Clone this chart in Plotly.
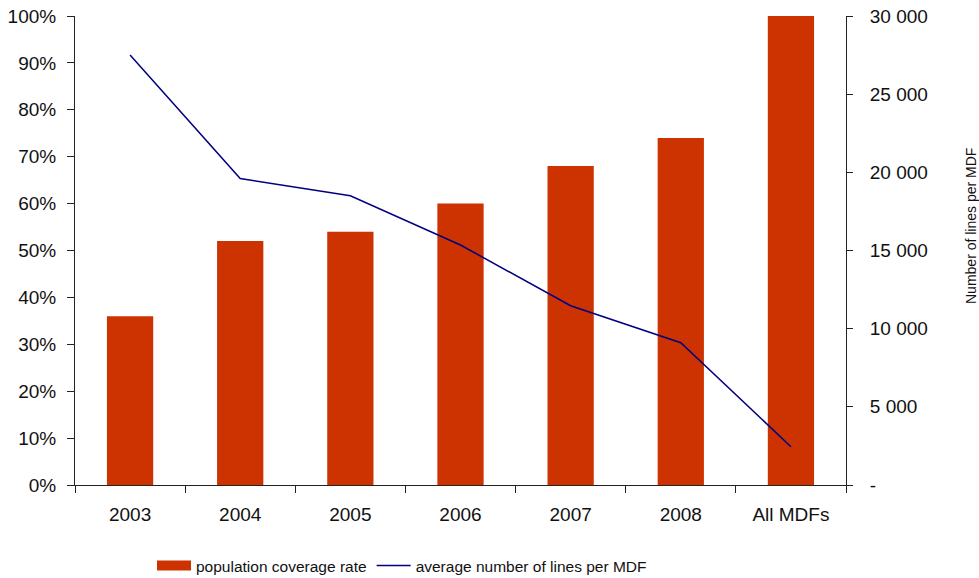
import plotly.graph_objects as go

categories = ["2003", "2004", "2005", "2006", "2007", "2008", "All MDFs"]
coverage_rate = [0.36, 0.52, 0.54, 0.60, 0.68, 0.74, 1.00]
avg_lines = [27500, 19600, 18500, 15350, 11470, 9100, 2450]

left_ticks = [i / 10 for i in range(11)]
left_labels = [f"{i*10}%" for i in range(11)]
right_ticks = [0, 5000, 10000, 15000, 20000, 25000, 30000]
right_labels = ["-", "5 000", "10 000", "15 000", "20 000", "25 000", "30 000"]
right_title = "Number of lines per MDF"

FONT = "Liberation Sans, Arial, sans-serif"
W, H = 979, 578
BAR_COLOR = "#CC3300"
LINE_COLOR = "#000080"

fig = go.Figure()
# legend-only entry to get a wide rectangular swatch for the bars
fig.add_trace(go.Scatter(
    x=[None], y=[None], name="population coverage rate", mode="lines",
    line=dict(color=BAR_COLOR, width=14), legendgroup="bars", hoverinfo="skip",
))
fig.add_trace(go.Bar(
    x=categories, y=coverage_rate, name="population coverage rate",
    marker=dict(color=BAR_COLOR, line=dict(width=0)), width=0.42, yaxis="y",
    showlegend=False, legendgroup="bars",
))
fig.add_trace(go.Scatter(
    x=categories, y=avg_lines, name="average number of lines per MDF",
    mode="lines", line=dict(color=LINE_COLOR, width=1.5), yaxis="y2",
))

fig.add_annotation(
    text=right_title, textangle=-90, xref="paper", yref="paper",
    x=(971 - 75) / (846 - 75), y=(485 - 226) / 469, xanchor="center", yanchor="middle",
    showarrow=False, font=dict(family=FONT, size=14, color="#111111"),
)

fig.update_layout(
    width=W, height=H,
    margin=dict(l=75, r=133, t=16, b=93, autoexpand=False),
    paper_bgcolor="white", plot_bgcolor="white",
    font=dict(family=FONT, size=19, color="#111111"),
    hovermode=False,
    showlegend=True,
    legend=dict(orientation="h", xref="container", yref="container",
                x=152 / W, xanchor="left", y=(H - 566) / H, yanchor="middle",
                font=dict(size=15.5), itemwidth=34, tracegroupgap=0),
    xaxis=dict(
        type="category", showgrid=False, showline=True, linecolor="#222222", linewidth=1,
        ticks="outside", ticklen=7, tickcolor="#222222", ticklabelstandoff=12,
        tickson="boundaries", zeroline=False, automargin=False,
    ),
    yaxis=dict(
        range=[0, 1], tickvals=left_ticks, ticktext=left_labels,
        showgrid=False, showline=True, linecolor="#222222", linewidth=1,
        ticks="outside", ticklen=7, tickcolor="#222222", ticklabelstandoff=7,
        zeroline=False, automargin=False,
    ),
    yaxis2=dict(
        overlaying="y", side="right", range=[0, 30000],
        tickvals=right_ticks, ticktext=right_labels,
        showgrid=False, showline=True, linecolor="#222222", linewidth=1,
        ticks="outside", ticklen=6, tickcolor="#222222", ticklabelstandoff=13,
        zeroline=False, automargin=False,
    ),
)

fig.write_html(
    "out.html",
    config={"displayModeBar": False, "staticPlot": True},
    post_script="document.body.style.margin='0';document.body.style.padding='0';",
)
